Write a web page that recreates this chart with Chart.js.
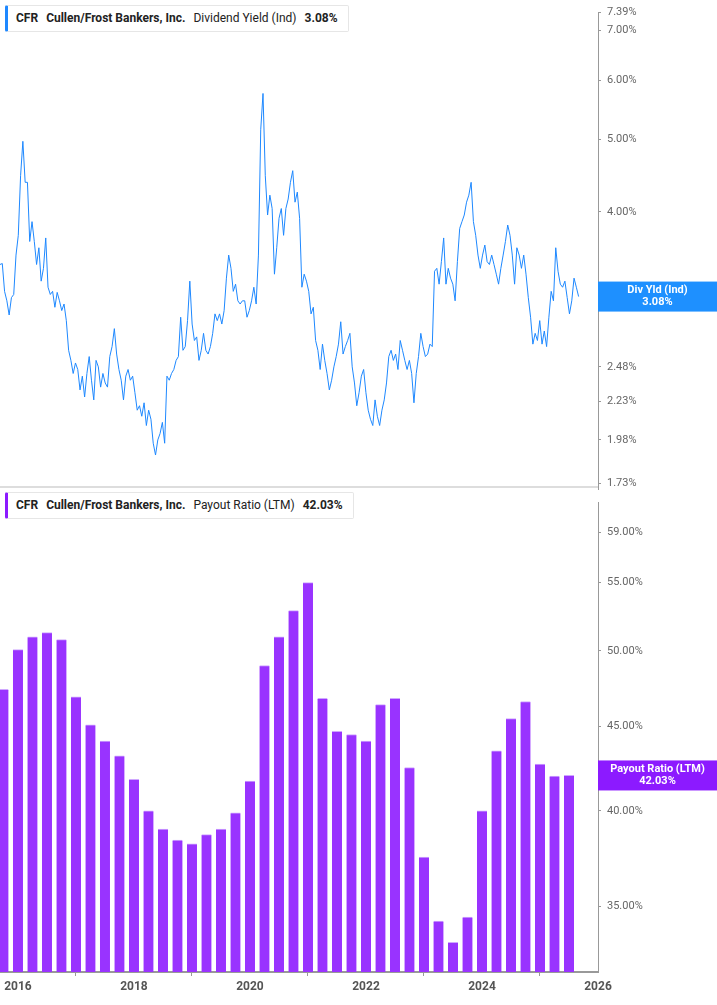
<!DOCTYPE html>
<html>
<head>
<meta charset="utf-8">
<script src="https://cdn.jsdelivr.net/npm/chart.js@4"></script>
<style>
    body { margin:0; background:#fff; font-family:Roboto, "Noto Sans", sans-serif; }
    #wrap { position:relative; width:717px; height:1005px; overflow:hidden; }
    .panel { position:absolute; left:0; width:717px; }
    .legend { position:absolute; left:5px; height:25px; background:#fff; border:1px solid #e6e6e6; border-left:3px solid; border-radius:2px;
              font-size:12px; line-height:25px; color:#222; padding:0 10px 0 8px; white-space:nowrap; }
    .legend b { font-weight:700; }
    .legend span { margin-right:8px; }
    .sep { position:absolute; left:0; top:486px; width:598px; height:2px; background:#ddd; }
</style>
</head>
<body>
<div id="wrap">
    <div class="panel" style="top:0;height:502px"><canvas id="yld" width="717" height="502"></canvas></div>
    <div class="panel" style="top:490px;height:515px"><canvas id="pay" width="717" height="515"></canvas></div>
    <div class="sep"></div>
    <div class="legend" style="top:5px;border-left-color:#1e88ff"><b><span>CFR</span><span>Cullen/Frost Bankers, Inc.</span></b><span>Dividend Yield (Ind)</span><b>3.08%</b></div>
    <div class="legend" style="top:492px;border-left-color:#8c1aff"><b><span>CFR</span><span>Cullen/Frost Bankers, Inc.</span></b><span>Payout Ratio (LTM)</span><b>42.03%</b></div>
</div>
<script>
// dividend yield, sampled every ~2 weeks from the start date
const yldStart = 2015.69;
const yldStep = 0.03943;
const yldValues = [3.40,3.41,3.13,3.04,2.91,3.07,3.10,3.50,3.72,4.47,4.97,4.38,4.38,3.65,3.88,3.65,3.40,3.58,3.23,3.36,
    3.69,3.17,3.10,3.13,2.98,3.12,3.04,2.95,3.01,2.86,2.61,2.53,2.43,2.51,2.46,2.31,2.41,2.26,2.43,2.56,
    2.38,2.24,2.53,2.48,2.33,2.43,2.36,2.33,2.56,2.64,2.79,2.58,2.46,2.38,2.24,2.41,2.46,2.38,2.41,2.29,
    2.17,2.20,2.13,2.22,2.07,2.17,2.11,1.96,1.89,1.98,2.02,2.09,1.96,2.41,2.38,2.43,2.46,2.53,2.56,2.89,
    2.61,2.64,2.86,3.23,2.83,2.69,2.72,2.53,2.61,2.75,2.61,2.58,2.64,2.75,2.92,2.86,2.92,2.83,2.95,3.26,
    3.50,3.36,3.13,3.20,3.04,3.01,3.04,3.04,2.89,2.95,3.04,3.17,3.01,3.50,5.15,5.76,4.47,3.96,4.21,4.04,
    3.30,3.58,3.92,4.04,3.72,4.04,4.16,4.38,4.54,4.12,4.25,3.92,3.17,3.30,3.23,3.13,2.92,2.98,2.69,2.61,
    2.46,2.66,2.53,2.43,2.31,2.38,2.48,2.56,2.66,2.85,2.58,2.64,2.69,2.75,2.48,2.36,2.20,2.29,2.41,2.46,
    2.29,2.17,2.11,2.07,2.24,2.13,2.07,2.17,2.24,2.36,2.56,2.61,2.53,2.58,2.46,2.69,2.61,2.53,2.46,2.53,
    2.43,2.22,2.43,2.56,2.75,2.64,2.56,2.58,2.66,2.64,3.33,3.36,3.20,3.43,3.69,3.20,3.36,3.26,3.20,3.04,
    3.43,3.80,3.88,3.96,4.12,4.21,4.38,3.88,3.72,3.50,3.36,3.50,3.61,3.43,3.40,3.50,3.40,3.30,3.20,3.36,
    3.50,3.65,3.84,3.72,3.50,3.20,3.58,3.50,3.36,3.50,3.30,3.07,2.89,2.66,2.75,2.69,2.86,2.66,2.77,2.64,
    2.89,3.13,3.04,3.58,3.33,3.20,3.17,3.23,3.07,2.92,3.04,3.26,3.17,3.08];
const yldTicks = [1.73,1.98,2.23,2.48,3.00,4.00,5.00,6.00,7.00,7.39];

// payout ratio (LTM), quarterly from Q3 2015
const payStart = 2015.75;
const payValues = [47.4,50.1,51.0,51.3,50.8,46.9,45.1,44.1,43.2,41.8,
    40.0,39.0,38.4,38.2,38.7,39.0,39.9,41.7,49.0,51.0,
    52.9,55.0,46.8,44.7,44.5,44.1,46.4,46.8,42.5,37.5,
    34.3,33.3,34.5,40.0,43.5,45.5,46.6,42.7,42.0,42.03];
const payTicks = [35,40,45,50,55,59];
const yearTicks = [2016,2018,2020,2022,2024,2026];

const yldData = yldValues.map((v, i) => ({ x: yldStart + i * yldStep, y: v }));
const payData = payValues.map((v, i) => ({ x: payStart + i * 0.25, y: v }));

function badge(color, label, value) {
    return {
        id: 'badge',
        afterDraw(chart) {
            const c = chart.ctx, y = chart.scales.y.getPixelForValue(value);
            const left = chart.chartArea.right;
            c.save();
            c.fillStyle = color;
            c.fillRect(left, y - 15, 717 - left, 30);
            c.fillStyle = '#fff';
            c.font = 'bold 11px Roboto';
            c.textAlign = 'center';
            c.textBaseline = 'middle';
            const cx = left + (717 - left) / 2;
            c.fillText(label, cx, y - 6);
            c.fillText(value.toFixed(2) + '%', cx, y + 6);
            c.restore();
        }
    };
}

function yAxis(min, max, ticks) {
    return {
        type: 'logarithmic', position: 'right', min: min, max: max,
        afterBuildTicks: s => { s.ticks = ticks.map(v => ({ value: v })); },
        afterFit: s => { s.width = 119; },
        border: { color: '#999' },
        grid: { drawOnChartArea: false, tickLength: 3, color: '#999' },
        ticks: { color: '#666', font: { size: 11 }, padding: 6, callback: v => Number(v).toFixed(2) + '%' }
    };
}

Chart.defaults.font.family = 'Roboto';
Chart.defaults.animation = false;

new Chart(document.getElementById('yld'), {
    type: 'line',
    data: { datasets: [{ data: yldData, borderColor: '#1e88ff', borderWidth: 1, pointRadius: 0, tension: 0 }] },
    options: {
        responsive: false,
        layout: { padding: { top: 8, bottom: 5, left: 0 } },
        plugins: { legend: { display: false }, tooltip: { enabled: false } },
        scales: {
            x: { type: 'linear', min: 2015.69, max: 2026, display: false },
            y: yAxis(1.73, 7.39, yldTicks)
        }
    },
    plugins: [badge('#1e90ff', 'Div Yld (Ind)', 3.08)]
});

new Chart(document.getElementById('pay'), {
    type: 'bar',
    data: { datasets: [{ data: payData, backgroundColor: '#9933ff', borderColor: '#cfa8ff',
        borderWidth: { top: 1, left: 0, right: 0, bottom: 0 }, borderSkipped: 'start', barThickness: 10 }] },
    options: {
        responsive: false,
        layout: { padding: { top: 0, left: 0 } },
        plugins: { legend: { display: false }, tooltip: { enabled: false } },
        scales: {
            x: {
                type: 'linear', min: 2015.69, max: 2026, offset: false,
                afterBuildTicks: s => { s.ticks = yearTicks.map(v => ({ value: v })); },
                afterFit: s => { s.height = 33; },
                border: { color: '#999', width: 2 },
                grid: { drawOnChartArea: false, tickLength: 4, color: '#999' },
                ticks: { color: '#555', font: { size: 12, weight: 'bold' }, padding: 4, maxRotation: 0, callback: v => String(v) }
            },
            y: yAxis(31.95, 61.5, payTicks)
        }
    },
    plugins: [badge('#8c1aff', 'Payout Ratio (LTM)', 42.03)]
});
</script>
</body>
</html>
